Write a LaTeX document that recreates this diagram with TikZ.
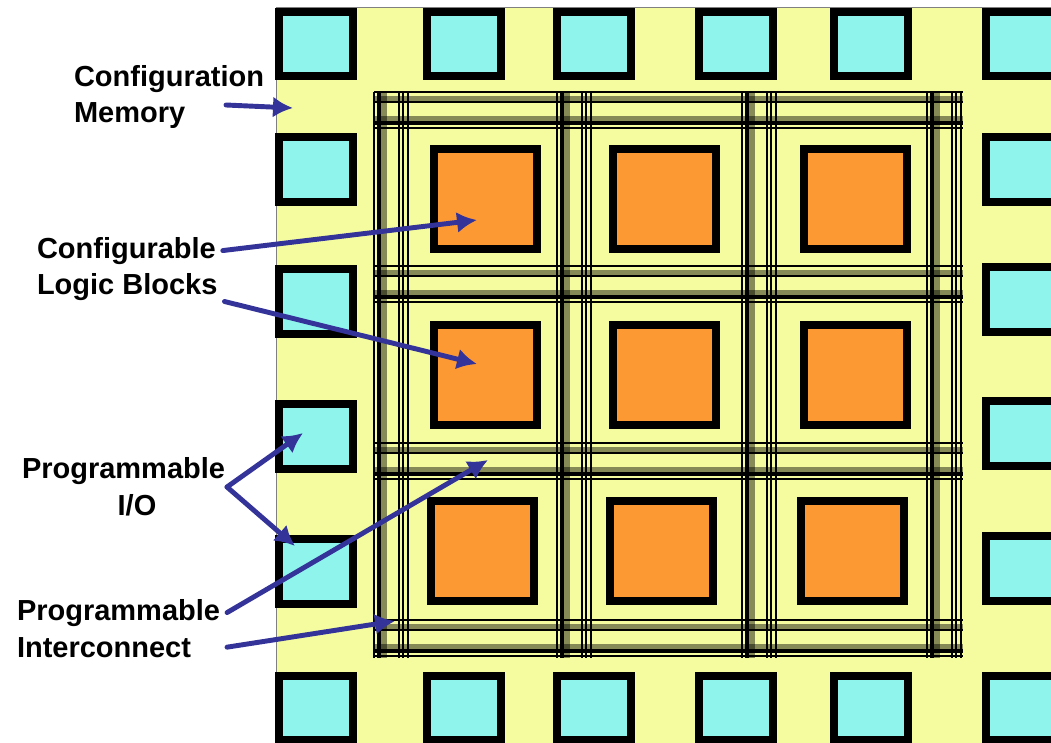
\documentclass[tikz,border=0pt]{standalone}
\usepackage{fontspec}
\setmainfont{Liberation Sans}
\usetikzlibrary{arrows.meta}
\definecolor{chipbg}{RGB}{245,252,160}
\definecolor{padfill}{RGB}{143,245,236}
\definecolor{clbfill}{RGB}{253,153,51}
\definecolor{callout}{RGB}{51,51,153}
\begin{document}
\begin{tikzpicture}[x=0.02cm,y=-0.02cm,
  pad/.style={draw=black,line width=4.2pt,fill=padfill},
  clb/.style={draw=black,line width=4.2pt,fill=clbfill},
  lbl/.style={font=\fontsize{16.5}{19}\selectfont\bfseries,inner sep=0pt,outer xsep=4pt,anchor=base west},
  arr/.style={draw=callout,line width=2.8pt,line cap=round,-{Latex[length=4mm,width=4.2mm]}}]
\useasboundingbox (0,0) rectangle (1051,743);
\clip (0,0) rectangle (1051,743);
% 芯片底板
\draw[fill=chipbg,draw=gray] (276,7) rectangle (1070,760);
% I/O 焊盘
\foreach \x in {275,423,553,695,830,982}{
  \draw[pad] (\x+4,12) rectangle (\x+78,76);
  \draw[pad] (\x+4,676) rectangle (\x+78,740);
}
\foreach \y in {133,265,400,535}
  \draw[pad] (279,\y+4) rectangle (353,\y+69);
\foreach \y in {133,263,397,532}
  \draw[pad] (986,\y+4) rectangle (1060,\y+69);
% 布线通道
\foreach \c in {92,266,443,620}
  \foreach \d/\lw/\op in {0/0.6/1,7/3.4/0.45,10/1.3/1,27/3.4/0.45,31/2/1,36/0.6/1}
    \draw[line width=\lw pt,opacity=\op] (374,\c+\d) -- (963,\c+\d);
\foreach \c in {374,557,742,927}
  \foreach \d/\lw/\op in {0/0.6/1,5/2/1,10/3.4/0.45,25/0.6/1,29/1.3/1,34/0.6/1}
    \draw[line width=\lw pt,opacity=\op] (\c+\d,92) -- (\c+\d,658);
% 逻辑块
\foreach \x in {430,609,800}
  \foreach \y/\s in {145/0,321/0,497/-3}
    \draw[clb] (\x+\s+4,\y+4) rectangle (\x+\s+107,\y+104);
% 标注
\node[lbl] (memA) at (67,87) {Configuration};
\node[lbl] (memB) at (67,123) {Memory};
\node[lbl] (clbA) at (30,258) {Configurable};
\node[lbl] (clbB) at (30,295) {Logic Blocks};
\node[lbl] (ioA) at (15,478) {Programmable};
\node[lbl,anchor=base] (ioB) at (137,515) {I/O};
\node[lbl] (picA) at (10,620) {Programmable};
\node[lbl] (picB) at (10,657) {Interconnect};
\coordinate (memFrom) at (226,105);
\coordinate (memTo) at (293,108);
\coordinate (clbTo1) at (477,220);
\coordinate (clbTo2) at (477,364);
\coordinate (ioV) at (227,487);
\coordinate (ioTo1) at (303,433);
\coordinate (ioTo2) at (295,546);
\coordinate (picTo1) at (488,460);
\coordinate (picTo2) at (395,621);
\draw[arr] (memFrom) -- (memTo);
\draw[arr] (clbA.east) -- (clbTo1);
\draw[arr] (clbB.south east) -- (clbTo2);
\draw[arr] (ioV) -- (ioTo1);
\draw[arr] (ioV) -- (ioTo2);
\draw[arr] (picA.east) -- (picTo1);
\draw[arr] ([xshift=0.58cm]picB.east) -- (picTo2);
\end{tikzpicture}
\end{document}
